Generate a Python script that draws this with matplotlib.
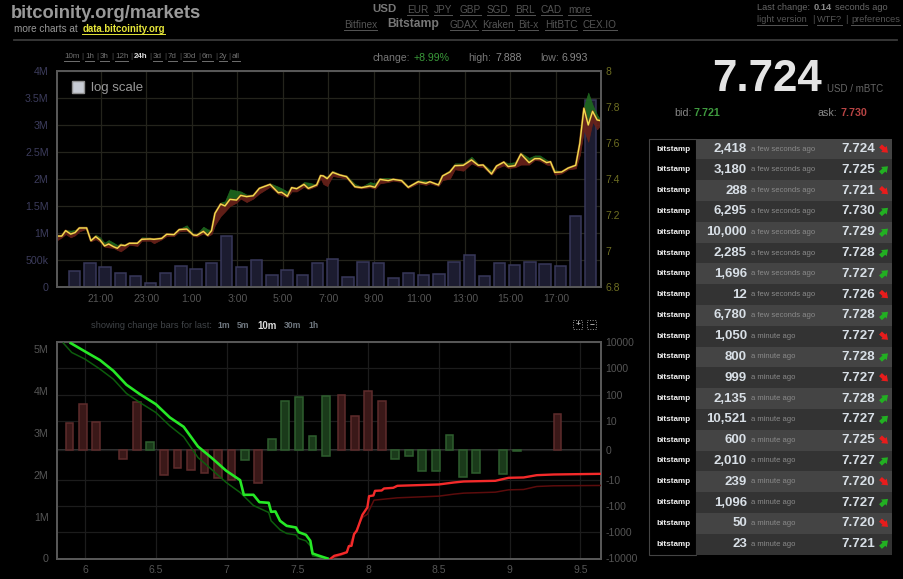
import matplotlib
matplotlib.use('Agg')
import matplotlib.pyplot as plt
from matplotlib.patches import Rectangle, FancyArrowPatch
import numpy as np

plt.rcParams['font.family'] = ['Liberation Sans', 'DejaVu Sans']

# top chart: hours since midnight of the previous day, price and the band around it
price_hours = [19.10, 19.29, 19.46, 19.68, 19.87, 20.06, 20.38, 20.57, 20.78, 20.97, 21.17, 21.35, 21.56, 21.73, 21.88,
               22.07, 22.26, 22.61, 22.80, 23.17, 23.34, 23.68, 23.90, 24.22, 24.45, 24.78, 25.07, 25.22, 25.51, 25.70,
               25.87, 26.02, 26.27, 26.46, 26.68, 26.97, 27.15, 27.41, 27.70, 27.97, 28.44, 28.80, 28.95, 29.20, 29.39,
               29.61, 29.93, 30.12, 30.49, 30.66, 30.78, 30.95, 31.19, 31.51, 31.80, 32.17, 32.46, 32.83, 33.05, 33.27,
               33.63, 33.85, 34.22, 34.51, 34.95, 35.29, 35.46, 35.84, 36.02, 36.34, 36.56, 36.93, 37.29, 37.59, 37.80,
               38.17, 38.39, 38.71, 38.90, 39.20, 39.46, 39.82, 40.07, 40.29, 40.59, 40.76, 40.95, 41.25, 41.54, 41.87,
               42.05, 42.23, 42.42, 42.61, 42.81, 42.96]
price = [7.083, 7.083, 7.113, 7.094, 7.102, 7.128, 7.128, 7.057, 7.080, 7.061, 7.028, 7.039, 7.024, 7.015, 7.033,
         7.030, 7.043, 7.043, 7.065, 7.067, 7.065, 7.070, 7.093, 7.091, 7.119, 7.122, 7.089, 7.087, 7.109, 7.087,
         7.113, 7.209, 7.261, 7.250, 7.287, 7.283, 7.309, 7.302, 7.307, 7.348, 7.370, 7.324, 7.326, 7.304, 7.352,
         7.346, 7.370, 7.348, 7.367, 7.419, 7.417, 7.402, 7.437, 7.422, 7.413, 7.357, 7.352, 7.361, 7.354, 7.398,
         7.391, 7.398, 7.391, 7.354, 7.385, 7.376, 7.385, 7.367, 7.417, 7.439, 7.474, 7.476, 7.506, 7.476, 7.478,
         7.428, 7.472, 7.494, 7.469, 7.474, 7.539, 7.491, 7.513, 7.513, 7.491, 7.496, 7.437, 7.439, 7.461, 7.476,
         7.598, 7.793, 7.700, 7.776, 7.728, 7.724]
price_high = [7.087, 7.087, 7.117, 7.113, 7.117, 7.131, 7.131, 7.065, 7.091, 7.076, 7.046, 7.061, 7.046, 7.033, 7.043,
              7.033, 7.046, 7.046, 7.076, 7.074, 7.069, 7.074, 7.096, 7.094, 7.122, 7.143, 7.094, 7.094, 7.135, 7.120,
              7.117, 7.213, 7.269, 7.276, 7.343, 7.335, 7.331, 7.313, 7.313, 7.354, 7.376, 7.357, 7.348, 7.330, 7.357,
              7.350, 7.383, 7.380, 7.369, 7.422, 7.420, 7.413, 7.446, 7.426, 7.420, 7.372, 7.357, 7.383, 7.376, 7.406,
              7.406, 7.402, 7.398, 7.361, 7.394, 7.391, 7.387, 7.372, 7.424, 7.450, 7.487, 7.487, 7.524, 7.483, 7.483,
              7.446, 7.476, 7.498, 7.487, 7.494, 7.546, 7.517, 7.531, 7.531, 7.506, 7.496, 7.450, 7.443, 7.465, 7.483,
              7.607, 7.802, 7.880, 7.811, 7.756, 7.728]
price_low = [7.061, 7.076, 7.094, 7.076, 7.087, 7.109, 7.124, 7.054, 7.065, 7.050, 7.024, 7.020, 7.017, 7.006, 6.998,
             7.015, 7.035, 7.028, 7.057, 7.057, 7.043, 7.065, 7.083, 7.083, 7.109, 7.113, 7.083, 7.080, 7.098, 7.083,
             7.094, 7.144, 7.194, 7.219, 7.250, 7.269, 7.291, 7.272, 7.291, 7.320, 7.357, 7.317, 7.311, 7.298, 7.331,
             7.331, 7.357, 7.343, 7.361, 7.404, 7.372, 7.361, 7.417, 7.409, 7.402, 7.354, 7.348, 7.354, 7.346, 7.376,
             7.383, 7.391, 7.383, 7.350, 7.376, 7.367, 7.376, 7.361, 7.394, 7.402, 7.454, 7.446, 7.487, 7.469, 7.465,
             7.424, 7.459, 7.476, 7.461, 7.465, 7.480, 7.480, 7.506, 7.502, 7.480, 7.476, 7.424, 7.431, 7.454, 7.459,
             7.533, 7.672, 7.607, 7.719, 7.676, 7.700]
volume = [302e3, 444e3, 377e3, 260e3, 198e3, 74e3, 253e3, 389e3, 327e3, 450e3, 944e3, 370e3, 506e3, 222e3, 315e3,
          222e3, 444e3, 525e3, 185e3, 469e3, 450e3, 160e3, 259e3, 216e3, 241e3, 469e3, 599e3, 197e3, 444e3, 414e3,
          457e3, 426e3, 389e3, 1321e3, 3469e3]
hour_ticks = [21, 23, 25, 27, 29, 31, 33, 35, 37, 39, 41]
hour_labels = ['21:00', '23:00', '1:00', '3:00', '5:00', '7:00', '9:00', '11:00', '13:00', '15:00', '17:00']
vol_ticks = [0, 5e5, 1e6, 1.5e6, 2e6, 2.5e6, 3e6, 3.5e6, 4e6]
vol_labels = ['0', '500k', '1M', '1.5M', '2M', '2.5M', '3M', '3.5M', '4M']
price_ticks = [6.8, 7, 7.2, 7.4, 7.6, 7.8, 8]
price_labels = ['6.8', '7', '7.2', '7.4', '7.6', '7.8', '8']

# bottom chart: order book depth
bid_x = [5.899, 6.000, 6.106, 6.200, 6.293, 6.387, 6.500, 6.599, 6.697, 6.798, 6.892, 6.998, 7.096, 7.122, 7.190, 7.232,
         7.298, 7.315, 7.345, 7.378, 7.425, 7.491, 7.509, 7.561, 7.592, 7.608, 7.655, 7.714]
bid_depth = [5.143, 4.944, 4.737, 4.482, 4.148, 3.925, 3.686, 3.368, 3.145, 2.675, 2.412, 2.094, 1.871, 1.521, 1.521, 1.346,
             1.330, 1.115, 1.123, 0.900, 0.780, 0.740, 0.629, 0.565, 0.422, 0.119, 0.064, 0.0]
bid2_x = [5.847, 5.906, 6.000, 6.106, 6.200, 6.293, 6.387, 6.500, 6.599, 6.697, 6.798, 6.892, 6.998, 7.096, 7.190, 7.298,
          7.315, 7.378, 7.425, 7.491, 7.509, 7.561, 7.592, 7.608, 7.714]
bid2_depth = [5.143, 4.920, 4.761, 4.522, 4.283, 3.941, 3.726, 3.487, 3.169, 2.906, 2.412, 2.134, 1.815, 1.576, 1.266, 1.099,
              0.900, 0.685, 0.597, 0.565, 0.478, 0.422, 0.303, 0.064, 0.0]
ask_x = [7.737, 7.761, 7.808, 7.850, 7.864, 7.883, 7.901, 7.920, 7.960, 7.995, 8.007, 8.038, 8.049, 8.096, 8.113, 8.178,
         8.207, 8.500, 8.606, 8.676, 8.899, 8.993, 9.099, 9.192, 9.310, 9.643]
ask_depth = [0.0, 0.064, 0.104, 0.151, 0.295, 0.303, 0.581, 0.661, 1.043, 1.218, 1.489, 1.505, 1.616, 1.624, 1.672, 1.688,
             1.736, 1.768, 1.815, 1.839, 1.855, 1.927, 1.935, 1.990, 2.006, 2.022]
ask2_x = [7.737, 7.808, 7.850, 7.864, 7.901, 7.960, 7.995, 8.042, 8.207, 8.500, 8.606, 8.676, 8.899, 8.993, 9.099, 9.192,
          9.310, 9.643]
ask2_depth = [0.0, 0.080, 0.135, 0.279, 0.565, 0.979, 1.059, 1.393, 1.449, 1.489, 1.537, 1.561, 1.584, 1.640, 1.648, 1.720,
              1.736, 1.744]
depth_ticks = [0, 1, 2, 3, 4, 5]
depth_labels = ['0', '1M', '2M', '3M', '4M', '5M']
price_x_ticks = [6, 6.5, 7, 7.5, 8, 8.5, 9, 9.5]
price_x_labels = ['6', '6.5', '7', '7.5', '8', '8.5', '9', '9.5']
change_ticks = [-10000, -1000, -100, -10, 0, 10, 100, 1000, 10000]
change_labels = ['-10000', '-1000', '-100', '-10', '0', '10', '100', '1000', '10000']

red_bar_x = [5.890, 5.984, 6.080, 6.270, 6.366, 6.556, 6.653, 6.749, 6.845, 6.939, 7.035, 7.225, 7.812, 7.906, 8.002, 8.096, 9.338]
red_bar_val = [9.3, 43.9, 9.6, -3.1, 50.6, -8.5, -6.2, -6.7, -7.9, -9.4, -10.6, -13.7, 100, 16, 141, 55, 18]
green_bar_x = [6.460, 7.131, 7.322, 7.415, 7.512, 7.608, 8.192, 8.289, 8.383, 8.479, 8.575, 8.671, 8.765, 8.955, 9.052]
green_bar_val = [2.8, -3.5, 3.95, 58, 82, 4.8, -3, -2.1, -7.2, -7, 5.3, -9.3, -7.9, -8, -0.15]
# the bar at 7.7 goes both ways
both_bar_x = [7.702]
both_bar_low = [-1.85]
both_bar_high = [92]

# trades table
trade_amounts = ['2,418', '3,180', '288', '6,295', '10,000', '2,285', '1,696', '12', '6,780', '1,050',
                 '800', '999', '2,135', '10,521', '600', '2,010', '239', '1,096', '50', '23']
trade_ages = ['a few seconds ago'] * 9 + ['a minute ago'] * 11
trade_prices = ['7.724', '7.725', '7.721', '7.730', '7.729', '7.728', '7.727', '7.726', '7.728', '7.727',
                '7.728', '7.727', '7.728', '7.727', '7.725', '7.727', '7.720', '7.727', '7.720', '7.721']
trade_up = [0, 1, 0, 1, 1, 1, 1, 0, 1, 0, 1, 0, 1, 1, 0, 1, 0, 1, 0, 1]

W, H = 904, 579
fig = plt.figure(figsize=(W / 100, H / 100), dpi=100, facecolor='black')


def axes_px(x0, y0, x1, y1):
    """Axes from pixel box, y measured from the top."""
    return fig.add_axes([x0 / W, 1 - y1 / H, (x1 - x0) / W, (y1 - y0) / H], facecolor='black')


def style_axes(ax, spine='#585858'):
    for s in ax.spines.values():
        s.set_color(spine)
        s.set_linewidth(1.4)
    ax.tick_params(length=0)


# price / volume chart
ax_vol = axes_px(57, 71, 601, 287)
ax_vol.set_xlim(19.08, 42.98)
ax_vol.set_ylim(0, 4e6)
bar_hours = 19.858 + np.arange(len(volume)) * (2 / 3)
ax_vol.bar(bar_hours, volume, width=0.5, color='#1c1c30', edgecolor='#38385a', linewidth=1.1, zorder=3)
ax_vol.set_xticks(hour_ticks, hour_labels)
ax_vol.set_yticks(vol_ticks, vol_labels)
ax_vol.grid(True, color='#24241c', linewidth=0.9, zorder=0)
ax_vol.set_axisbelow(True)
style_axes(ax_vol)
ax_vol.tick_params(axis='x', colors='#555555', labelsize=7.6, pad=5)
ax_vol.tick_params(axis='y', colors='#3c3c5c', labelsize=7.7, pad=6)

ax_price = ax_vol.twinx()
ax_price.set_ylim(6.8, 8)
ax_price.set_yticks(price_ticks, price_labels)
ax_price.fill_between(price_hours, price, price_high, color='#1f6a1f', alpha=0.9, linewidth=0.5)
ax_price.fill_between(price_hours, price_low, price, color='#6a221a', alpha=0.9, linewidth=0.5)
ax_price.plot(price_hours, price, color='#6e3a18', linewidth=1.7, solid_joinstyle='round')
ax_price.plot(price_hours, price, color='#f4dc50', linewidth=1.0, solid_joinstyle='round')
style_axes(ax_price)
ax_price.tick_params(axis='y', colors='#6e6e22', labelsize=7.5, pad=3)

# depth chart
ax_depth = axes_px(57, 342, 601, 558.5)
ax_depth.set_xlim(5.802, 9.646)
ax_depth.set_ylim(0, 5.17)
ax_depth.set_xticks(price_x_ticks, price_x_labels)
ax_depth.set_yticks(depth_ticks, depth_labels)
style_axes(ax_depth)
ax_depth.tick_params(axis='x', colors='#555555', labelsize=7.5, pad=5)
ax_depth.tick_params(axis='y', colors='#555555', labelsize=7.7, pad=6)
ax_depth.xaxis.grid(True, color='#1c1c1c', linewidth=0.9)

ax_change = ax_depth.twinx()
ax_change.set_yscale('symlog', linthresh=10, linscale=1)
ax_change.set_ylim(-10000, 10000)
ax_change.set_yticks(change_ticks, change_labels)
ax_change.minorticks_off()
ax_change.yaxis.grid(True, color='#1c1c1c', linewidth=0.9)
ax_change.axhline(0, color='#444444', linewidth=1.1, zorder=1)
ax_change.bar(red_bar_x, red_bar_val, width=0.055, color='#3a1818', edgecolor='#5e2c2c', linewidth=1.1, zorder=2)
ax_change.bar(green_bar_x, green_bar_val, width=0.055, color='#1a3a1a', edgecolor='#2e5e2e', linewidth=1.1, zorder=2)
ax_change.bar(both_bar_x, np.array(both_bar_high) - np.array(both_bar_low), bottom=both_bar_low, width=0.055,
              color='#1a3a1a', edgecolor='#2e5e2e', linewidth=1.1, zorder=2)
style_axes(ax_change)
ax_change.tick_params(axis='y', colors='#555555', labelsize=7.5, pad=3)

# lines go on an extra overlay of the same box so they stay above the change bars
ax_lines = axes_px(57, 342, 601, 558.5)
ax_lines.patch.set_alpha(0)
ax_lines.set_xlim(5.802, 9.646)
ax_lines.set_ylim(0, 5.17)
ax_lines.axis('off')
ax_lines.plot(bid2_x, bid2_depth, color='#0c5c0c', linewidth=1.1)
ax_lines.plot(ask2_x, ask2_depth, color='#5c0c0c', linewidth=1.1)
ax_lines.plot(bid_x, bid_depth, color='#26e826', linewidth=1.9)
ax_lines.plot(ask_x, ask_depth, color='#f42a2a', linewidth=1.7)

# everything else is page furniture, placed in pixels
page = fig.add_axes([0, 0, 1, 1], facecolor='none')
page.set_xlim(0, W)
page.set_ylim(H, 0)
page.axis('off')


def text(x, y, s, color='#888888', size=7, weight='normal', ha='left', underline=False):
    t = page.text(x, y, s, color=color, fontsize=size, fontweight=weight, ha=ha, va='center')
    if underline:
        box = t.get_window_extent(fig.canvas.get_renderer())
        page.plot([box.x0, box.x1], [y + size * 0.72, y + size * 0.72], color=color, linewidth=0.7)
    return t


# header
text(11, 13, 'bitcoinity.org/markets', color='#999999', size=13.2, weight='bold')
text(14, 29.5, 'more charts at', color='#999999', size=7.2)
text(82.5, 29.5, 'data.bitcoinity.org', color='#e8e83a', size=6.9, weight='bold', underline=True)
page.plot([14, 897], [40, 40], color='#3a3a3a', linewidth=1.3)

text(372, 9, 'USD', color='#777777', size=8.2, weight='bold')
for x, s in zip([407, 434, 460, 487, 515, 541, 568], ['EUR', 'JPY', 'GBP', 'SGD', 'BRL', 'CAD', 'more']):
    text(x, 10, s, color='#555555', size=7.2, underline=True)
text(344, 25, 'Bitfinex', color='#555555', size=7.2, underline=True)
text(387, 24, 'Bitstamp', color='#777777', size=8.7, weight='bold')
for x, s in zip([450, 482, 518, 545, 583], ['GDAX', 'Kraken', 'Bit-x', 'HitBTC', 'CEX.IO']):
    text(x, 25, s, color='#555555', size=7.2, underline=True)

text(757, 7.5, 'Last change:', color='#666666', size=6.7)
text(814, 7.5, '0.14', color='#888888', size=6.7, weight='bold')
text(835, 7.5, 'seconds ago', color='#666666', size=6.7)
text(757, 20, 'light version', color='#555555', size=6.7, underline=True)
text(812, 20, '|', color='#555555', size=6.7)
text(817, 20, 'WTF?', color='#555555', size=6.7, underline=True)
text(845, 20, '|', color='#555555', size=6.7)
text(851, 20, 'preferences', color='#555555', size=6.7, underline=True)

# range links above the top chart
range_x = [64, 85, 100, 115, 134, 153, 168, 183, 202, 219, 232]
range_s = ['10m', '1h', '3h', '12h', '24h', '3d', '7d', '30d', '6m', '2y', 'all']
for x, s in zip(range_x, range_s):
    if s == '24h':
        text(x, 56.5, s, color='#dddddd', size=5.8, weight='bold')
    else:
        text(x, 56.5, s, color='#707070', size=5.8, underline=True)
for x in [81.5, 96.5, 111.5, 130.5, 149.5, 164.5, 179.5, 198.5, 215.5, 228.5]:
    text(x, 56.5, '|', color='#555555', size=5.6)

text(373, 58, 'change:', color='#777777', size=7.6)
text(414, 58, '+8.99%', color='#3a9a3a', size=7.6)
text(468, 58, 'high:', color='#777777', size=7.6)
text(495, 58, '7.888', color='#888888', size=7.6)
text(540, 58, 'low:', color='#777777', size=7.6)
text(562, 58, '6.993', color='#888888', size=7.6)

# log scale checkbox
page.add_patch(Rectangle((72, 81), 12, 12, facecolor='#c8ccd4', edgecolor='#909090', linewidth=1))
text(91, 88.5, 'log scale', color='#999999', size=9.5)

# current price
text(767, 79.5, '7.724', color='#e4e4e4', size=31.6, weight='bold', ha='center')
text(827, 89.5, 'USD / mBTC', color='#666666', size=7)
text(674, 113.5, 'bid:', color='#888888', size=7.7)
text(694, 113.5, '7.721', color='#3f9a3f', size=7.7, weight='bold')
text(818, 113.5, 'ask:', color='#888888', size=7.7)
text(841, 113.5, '7.730', color='#b84444', size=7.7, weight='bold')

# change bar links
text(91, 326, 'showing change bars for last:', color='#404448', size=6.7)
for x, s, c in zip([217, 237, 257, 283.5, 308], ['1m', '5m', '10m', '30m', '1h'],
                   ['#707880', '#707880', '#dddddd', '#707880', '#707880']):
    text(x, 326, s, color=c, size=6.9 if s == '10m' else 6.2, weight='bold')
for x, s in zip([578, 592], ['+', '\u2212']):
    page.add_patch(Rectangle((x - 4.5, 320), 9, 9, facecolor='none', edgecolor='#999999', linewidth=0.7, linestyle=':'))
    text(x, 324.5, s, color='#bbbbbb', size=6, weight='bold', ha='center')

# trades table
row_h = 20.79
top = 138.7
page.add_patch(Rectangle((649, top), 47, row_h * 20, facecolor='black', edgecolor='#444444', linewidth=0.8))
for i in range(len(trade_amounts)):
    y0 = top + i * row_h
    yc = y0 + row_h / 2
    page.add_patch(Rectangle((696, y0), 196, row_h, facecolor='#444444' if i % 2 == 0 else '#333333', linewidth=0))
    text(673.5, yc, 'bitstamp', color='#f0f0f0', size=5.9, weight='bold', ha='center')
    text(747, yc, trade_amounts[i], color='#d8dfe6', size=9.5, weight='bold', ha='right')
    text(751, yc, trade_ages[i], color='#8a8a8a', size=5.5)
    text(875, yc, trade_prices[i], color='#d8dfe6', size=9.6, weight='bold', ha='right')
    if trade_up[i]:
        start, end, col = (880.5, yc + 3.2), (888, yc - 3.6), '#22b022'
    else:
        start, end, col = (880.5, yc - 3.2), (888, yc + 3.6), '#e81c1c'
    page.add_patch(FancyArrowPatch(start, end, arrowstyle='simple,head_length=4,head_width=6,tail_width=3',
                                   color=col, linewidth=0, mutation_scale=1, shrinkA=0, shrinkB=0))

fig.savefig('out.png', dpi=100, facecolor='black')
